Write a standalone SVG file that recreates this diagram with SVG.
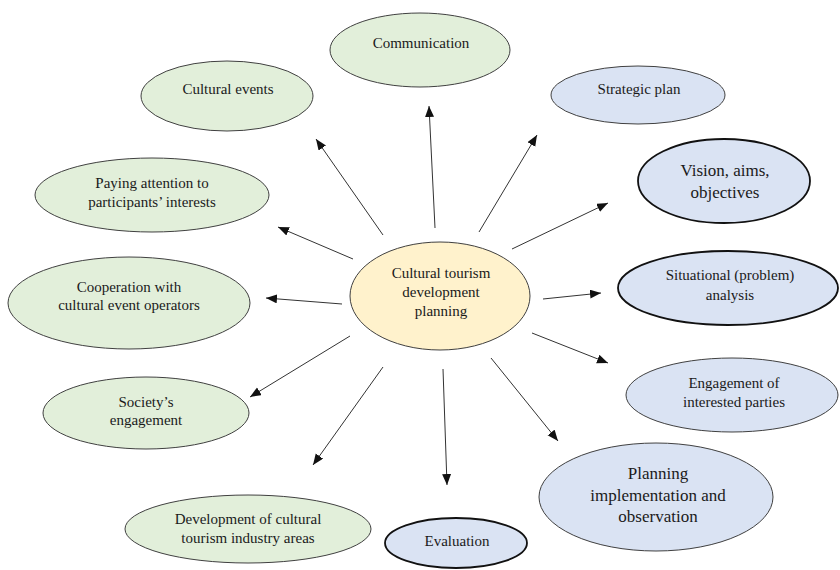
<svg xmlns="http://www.w3.org/2000/svg" width="840" height="570" viewBox="0 0 840 570">
<style>
text{font-family:Liberation Serif,Tinos,Noto Serif,DejaVu Serif,Times New Roman,Times,serif;font-size:15px;fill:#1a1a1a;text-anchor:middle}
.g{fill:#e2efda;stroke:#404040;stroke-width:1}
.b{fill:#dae3f3;stroke:#404040;stroke-width:1}
.bd{fill:#dae3f3;stroke:#111;stroke-width:1.8}
.y{fill:#fff2cc;stroke:#404040;stroke-width:1}
.big{font-size:17px}
#connectors line{stroke:#333;stroke-width:1;marker-end:url(#ah)}
</style>
<defs>
<marker id="ah" markerUnits="userSpaceOnUse" markerWidth="12" markerHeight="10" refX="11" refY="4.5" orient="auto">
<path d="M0,0 L11,4.5 L0,9 Z" fill="#111"/>
</marker>
</defs>
<rect width="840" height="570" fill="#fff"/>
<g id="connectors">
<line x1="435" y1="228" x2="429" y2="106"/>
<line x1="479" y1="232" x2="537" y2="135"/>
<line x1="512" y1="249" x2="608" y2="203"/>
<line x1="543" y1="299" x2="601" y2="293"/>
<line x1="532" y1="333" x2="608" y2="363"/>
<line x1="491" y1="358" x2="558" y2="441"/>
<line x1="443" y1="369" x2="447" y2="485"/>
<line x1="383" y1="367" x2="313" y2="465"/>
<line x1="350" y1="336" x2="250" y2="397"/>
<line x1="342" y1="304" x2="266" y2="298"/>
<line x1="353" y1="259" x2="278" y2="227"/>
<line x1="383" y1="235" x2="316" y2="139"/>
</g>
<g id="center">
<ellipse class="y" cx="440" cy="296" rx="90" ry="54"/>
<text x="441" y="278">Cultural tourism</text>
<text x="441" y="297">development</text>
<text x="441" y="316">planning</text>
</g>
<g id="communication">
<ellipse class="g" cx="420" cy="50" rx="90" ry="37"/>
<text x="421" y="48">Communication</text>
</g>
<g id="cultural-events">
<ellipse class="g" cx="227" cy="96" rx="86" ry="35"/>
<text x="228" y="94">Cultural events</text>
</g>
<g id="paying-attention">
<ellipse class="g" cx="152" cy="195" rx="117" ry="37"/>
<text x="152" y="188">Paying attention to</text>
<text x="152" y="207">participants’ interests</text>
</g>
<g id="cooperation">
<ellipse class="g" cx="129" cy="303" rx="121" ry="46"/>
<text x="129" y="292">Cooperation with</text>
<text x="129" y="310">cultural event operators</text>
</g>
<g id="society">
<ellipse class="g" cx="146" cy="413" rx="103" ry="36"/>
<text x="146" y="407">Society’s</text>
<text x="146" y="425">engagement</text>
</g>
<g id="development-areas">
<ellipse class="g" cx="248" cy="529" rx="123" ry="34"/>
<text x="248" y="524">Development of cultural</text>
<text x="248" y="543">tourism industry areas</text>
</g>
<g id="evaluation">
<ellipse class="bd" cx="456" cy="543" rx="71" ry="25"/>
<text x="457" y="546">Evaluation</text>
</g>
<g id="planning-implementation">
<ellipse class="b" cx="656" cy="497" rx="117" ry="54"/>
<text class="big" x="658" y="479">Planning</text>
<text class="big" x="658" y="501">implementation and</text>
<text class="big" x="658" y="522">observation</text>
</g>
<g id="engagement-parties">
<ellipse class="b" cx="732" cy="395" rx="106" ry="37"/>
<text x="734" y="388">Engagement of</text>
<text x="734" y="407">interested parties</text>
</g>
<g id="situational">
<ellipse class="bd" cx="728" cy="288" rx="110" ry="37"/>
<text x="730" y="280">Situational (problem)</text>
<text x="730" y="300">analysis</text>
</g>
<g id="vision">
<ellipse class="bd" cx="724" cy="181" rx="86" ry="42"/>
<text class="big" x="725" y="176">Vision, aims,</text>
<text class="big" x="725" y="198">objectives</text>
</g>
<g id="strategic-plan">
<ellipse class="b" cx="638" cy="95" rx="87" ry="29"/>
<text x="639" y="94">Strategic plan</text>
</g>
</svg>
